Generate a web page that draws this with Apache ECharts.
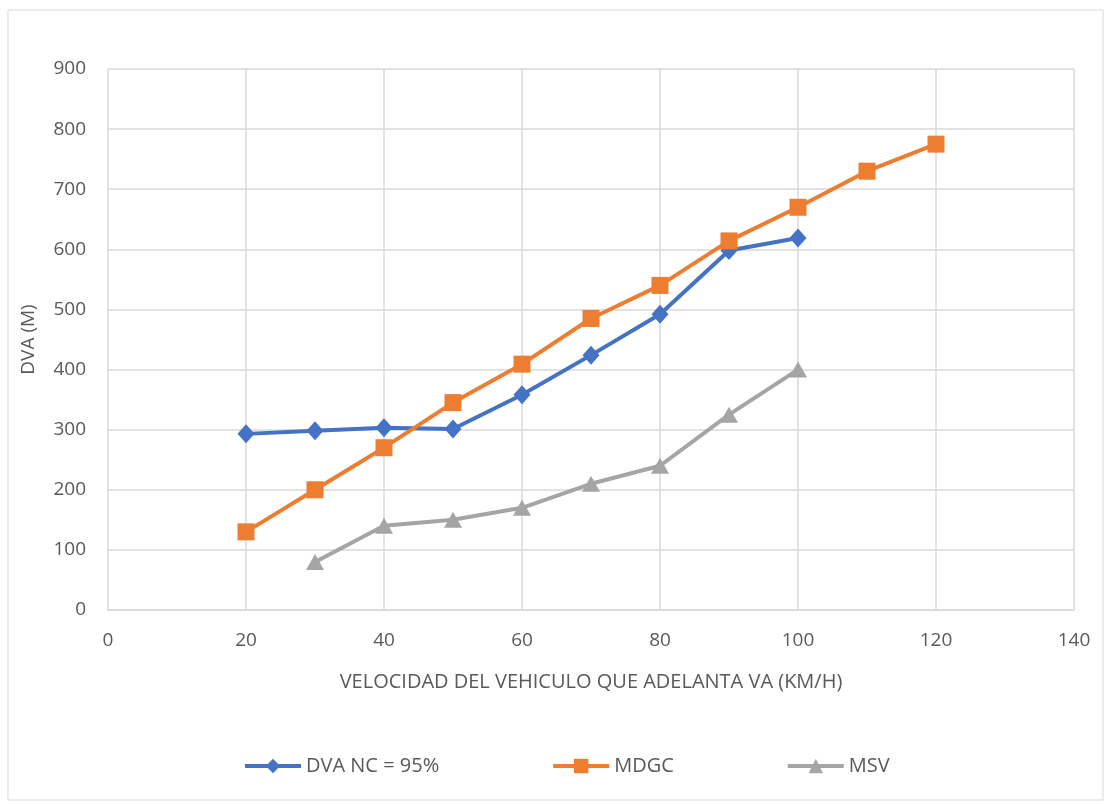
<!DOCTYPE html>
<html><head><meta charset="utf-8">
<script src="https://cdn.jsdelivr.net/npm/echarts@6/dist/echarts.min.js"></script>
<style>html,body{margin:0;padding:0;background:#fff}#c{width:1112px;height:804px}</style>
</head><body><div id="c"></div>
<script>
var dvaX = [20,30,40,50,60,70,80,90,100];
var dvaY = [293,298,303,301,358,424,492,598,619];
var mdgcX = [20,30,40,50,60,70,80,90,100,110,120];
var mdgcY = [130,200,270,345,409,485,540,614,670,730,775];
var msvX = [30,40,50,60,70,80,90,100];
var msvY = [80,140,150,170,210,240,325,400];
function pairs(xs, ys){ return xs.map(function(x,i){return [x, ys[i]];}); }
var font = 'Open Sans, Liberation Sans, sans-serif';
var chart = echarts.init(document.getElementById('c'));
chart.setOption({
  animation:false,
  graphic:[{type:'rect',shape:{x:8,y:10,width:1095,height:790},style:{fill:'none',stroke:'#d9d9d9',lineWidth:1},silent:true}],
  grid:{left:108,right:38,top:69,bottom:194},
  xAxis:{type:'value',min:0,max:140,interval:20,
    name:'VELOCIDAD DEL VEHICULO QUE ADELANTA VA (KM/H)',nameLocation:'middle',nameGap:62,
    nameTextStyle:{color:'#595959',fontSize:20,fontFamily:font},
    axisLine:{show:true,lineStyle:{color:'#d9d9d9',width:1.5}},axisTick:{show:false},
    axisLabel:{color:'#595959',fontSize:19,fontFamily:font,margin:21},
    splitLine:{show:true,lineStyle:{color:'#d9d9d9',width:1.5}}},
  yAxis:{type:'value',min:0,max:900,interval:100,
    name:'DVA (M)',nameLocation:'middle',nameGap:70,
    nameTextStyle:{color:'#595959',fontSize:19,fontFamily:font},
    axisLine:{show:false},axisTick:{show:false},
    axisLabel:{color:'#595959',fontSize:19,fontFamily:font,margin:22},
    splitLine:{show:true,lineStyle:{color:'#d9d9d9',width:1.5}}},
  legend:{top:751,left:238,itemGap:112,itemWidth:56,itemHeight:18,
    lineStyle:{width:4},
    textStyle:{color:'#595959',fontSize:20,fontFamily:font},
    data:['DVA NC = 95%','MDGC','MSV']},
  series:[
    {name:'DVA NC = 95%',type:'line',data:pairs(dvaX,dvaY),symbol:'diamond',symbolSize:[17,19],
      lineStyle:{color:'#4472c4',width:4},itemStyle:{color:'#4472c4'}},
    {name:'MDGC',type:'line',data:pairs(mdgcX,mdgcY),symbol:'rect',symbolSize:17,
      lineStyle:{color:'#ed7d31',width:4},itemStyle:{color:'#ed7d31'}},
    {name:'MSV',type:'line',data:pairs(msvX,msvY),symbol:'triangle',symbolSize:[18,16],
      lineStyle:{color:'#a5a5a5',width:4},itemStyle:{color:'#a5a5a5'}}
  ]
});
</script></body></html>
